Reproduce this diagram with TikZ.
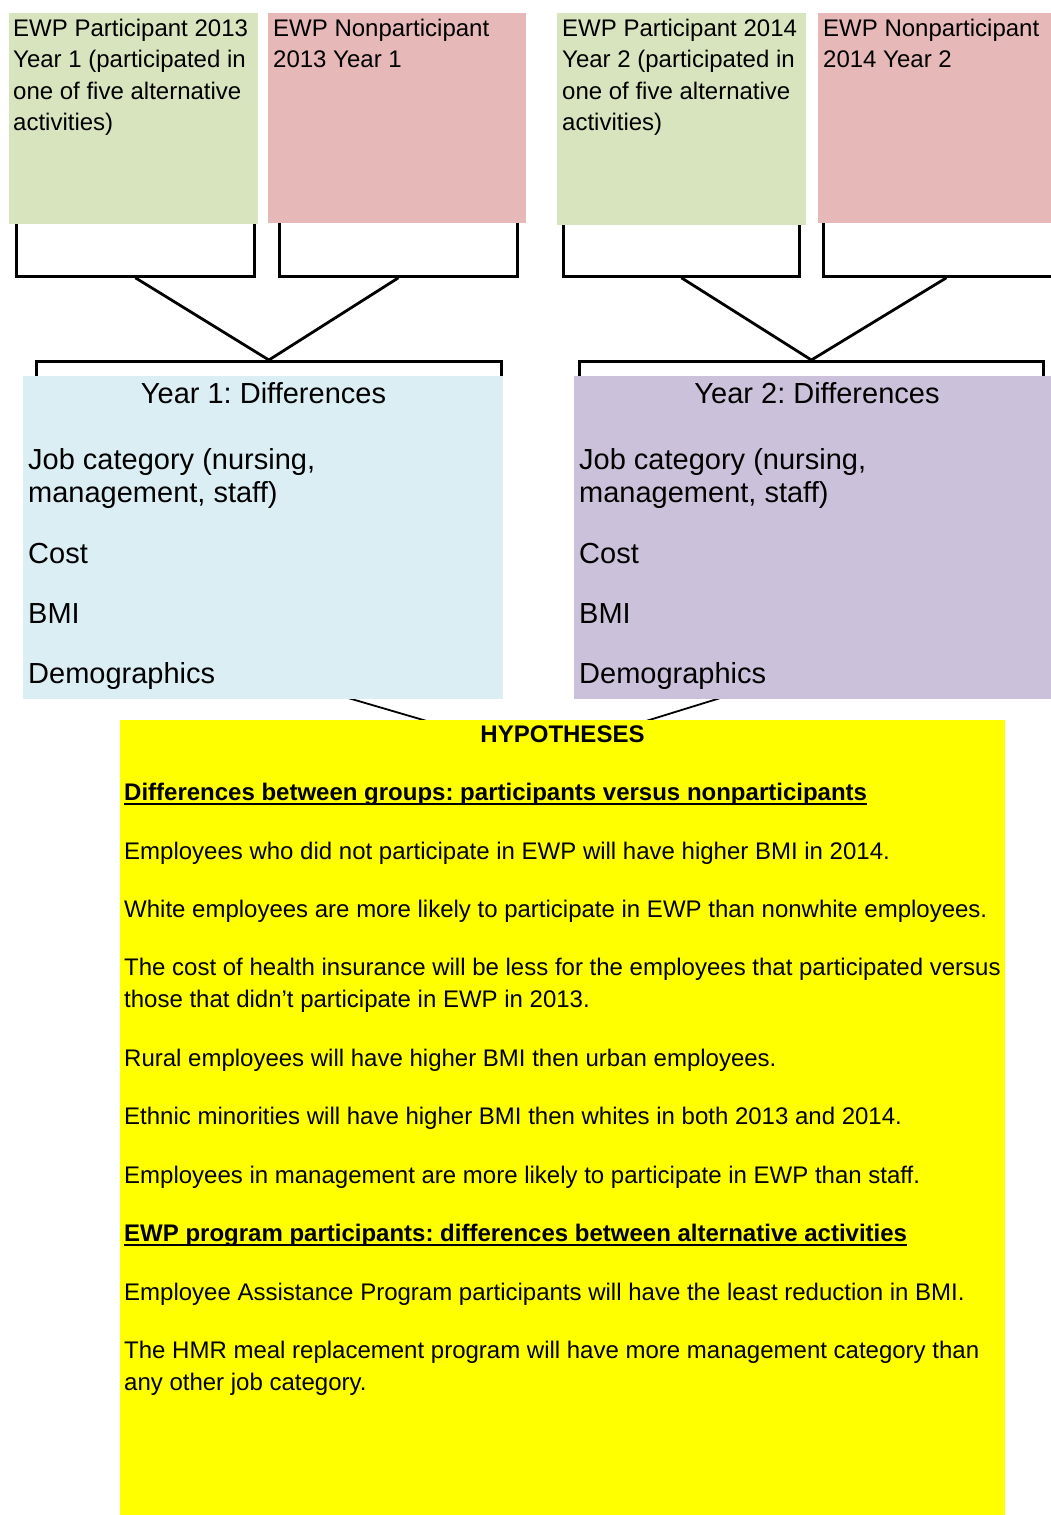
\documentclass[tikz,border=0pt]{standalone}
\usepackage{fontspec}
\setmainfont{Liberation Sans}
\frenchspacing
\definecolor{cgreen}{HTML}{D7E4BD}
\definecolor{cpink}{HTML}{E6B9B8}
\definecolor{cblue}{HTML}{DBEEF4}
\definecolor{cpurple}{HTML}{CCC1DA}
\definecolor{cyellow}{HTML}{FFFF00}
\tikzset{
  outbox/.style={draw=black, line width=2.8pt, fill=white, inner sep=0pt, anchor=north west},
  fillbox/.style={inner sep=0pt, anchor=north west, draw=none},
  conn/.style={draw=black, line width=2.8pt},
  thinconn/.style={draw=black, line width=1.8pt},
  t24/.style={anchor=base west, inner sep=0pt, font=\fontsize{24}{32}\selectfont},
  t29/.style={anchor=base west, inner sep=0pt, font=\fontsize{29}{34}\selectfont},
  hb/.style={anchor=base west, inner sep=0pt, font=\fontsize{24}{32}\selectfont\bfseries},
  uline/.style={draw=black, line width=2pt},
}
\begin{document}
\begin{tikzpicture}[x=1pt,y=-1pt]
\useasboundingbox (0,0) rectangle (1050,1515);
\fill[white] (0,0) rectangle (1050,1515);

% outline frames behind
\node[outbox, minimum width=238pt, minimum height=90pt] (o1) at (15,185) {};
\node[outbox, minimum width=238pt, minimum height=90pt] (o2) at (278,185) {};
\node[outbox, minimum width=236pt, minimum height=90pt] (o3) at (562,185) {};
\node[outbox, minimum width=246pt, minimum height=90pt] (o4) at (822,185) {};
\node[outbox, minimum width=465pt, minimum height=312pt] (d1) at (35,360) {};
\node[outbox, minimum width=464pt, minimum height=307pt] (d2) at (578,360) {};
\coordinate (hyp) at (539.5,754);

\draw[conn] (o1.south) -- (d1.north);
\draw[conn] (o2.south) -- (d1.north);
\draw[conn] (o3.south) -- (d2.north);
\draw[conn] (o4.south) -- (d2.north);
\draw[thinconn] (d1.south) -- (hyp);
\draw[thinconn] (d2.south) -- (hyp);

% coloured boxes
\node[fillbox, fill=cgreen, minimum width=249pt, minimum height=211pt] (g1) at (9,13) {};
\node[fillbox, fill=cpink, minimum width=258pt, minimum height=210pt] (p1) at (268,13) {};
\node[fillbox, fill=cgreen, minimum width=249pt, minimum height=212pt] (g2) at (557,13) {};
\node[fillbox, fill=cpink, minimum width=250pt, minimum height=210pt] (p2) at (818,13) {};
\node[fillbox, fill=cblue, minimum width=480pt, minimum height=323pt] (b1) at (23,376) {};
\node[fillbox, fill=cpurple, minimum width=486pt, minimum height=323pt] (b2) at (574,376) {};
\node[fillbox, fill=cyellow, minimum width=885pt, minimum height=805pt] (yb) at (120,720) {};

% top texts
\node[t24] (g1a) at (13,36) {EWP Participant 2013};
\node[t24] (g1b) at (13,67.5) {Year 1 (participated in};
\node[t24] (g1c) at (13,99) {one of five alternative};
\node[t24] (g1d) at (13,130.5) {activities)};
\node[t24] (p1a) at (273,36) {EWP Nonparticipant};
\node[t24] (p1b) at (273,67.5) {2013 Year 1};
\node[t24] (g2a) at (562,36) {EWP Participant 2014};
\node[t24] (g2b) at (562,67.5) {Year 2 (participated in};
\node[t24] (g2c) at (562,99) {one of five alternative};
\node[t24] (g2d) at (562,130.5) {activities)};
\node[t24] (p2a) at (823,36) {EWP Nonparticipant};
\node[t24] (p2b) at (823,67.5) {2014 Year 2};

% difference boxes
\node[t29, anchor=base] (b1t) at (263.5,403) {Year 1: Differences};
\node[t29] (b1a) at (28,469) {Job category (nursing,};
\node[t29] (b1b) at (28,502) {management, staff)};
\node[t29] (b1c) at (28,563) {Cost};
\node[t29] (b1d) at (28,623) {BMI};
\node[t29] (b1e) at (28,683) {Demographics};
\node[t29, anchor=base] (b2t) at (817,403) {Year 2: Differences};
\node[t29] (b2a) at (579,469) {Job category (nursing,};
\node[t29] (b2b) at (579,502) {management, staff)};
\node[t29] (b2c) at (579,563) {Cost};
\node[t29] (b2d) at (579,623) {BMI};
\node[t29] (b2e) at (579,683) {Demographics};

% hypotheses
\node[hb, anchor=base] (ht) at (562.5,742) {HYPOTHESES};
\node[hb] (h1) at (124,800) {Differences between groups: participants versus nonparticipants};
\draw[uline] ([yshift=-3.5pt]h1.base west) -- ([yshift=-3.5pt]h1.base east);
\node[t24] (h2) at (124,859) {Employees who did not participate in EWP will have higher BMI in 2014.};
\node[t24] (h3) at (124,917) {White employees are more likely to participate in EWP than nonwhite employees.};
\node[t24] (h4) at (124,975) {The cost of health insurance will be less for the employees that participated versus};
\node[t24] (h4b) at (124,1007) {those that didn’t participate in EWP in 2013.};
\node[t24] (h5) at (124,1066) {Rural employees will have higher BMI then urban employees.};
\node[t24] (h6) at (124,1124) {Ethnic minorities will have higher BMI then whites in both 2013 and 2014.};
\node[t24] (h7) at (124,1183) {Employees in management are more likely to participate in EWP than staff.};
\node[hb] (h8) at (124,1241) {EWP program participants: differences between alternative activities};
\draw[uline] ([yshift=-3.5pt]h8.base west) -- ([yshift=-3.5pt]h8.base east);
\node[t24] (h9) at (124,1300) {Employee Assistance Program participants will have the least reduction in BMI.};
\node[t24] (h10) at (124,1358) {The HMR meal replacement program will have more management category than};
\node[t24] (h10b) at (124,1390) {any other job category.};
\end{tikzpicture}
\end{document}
